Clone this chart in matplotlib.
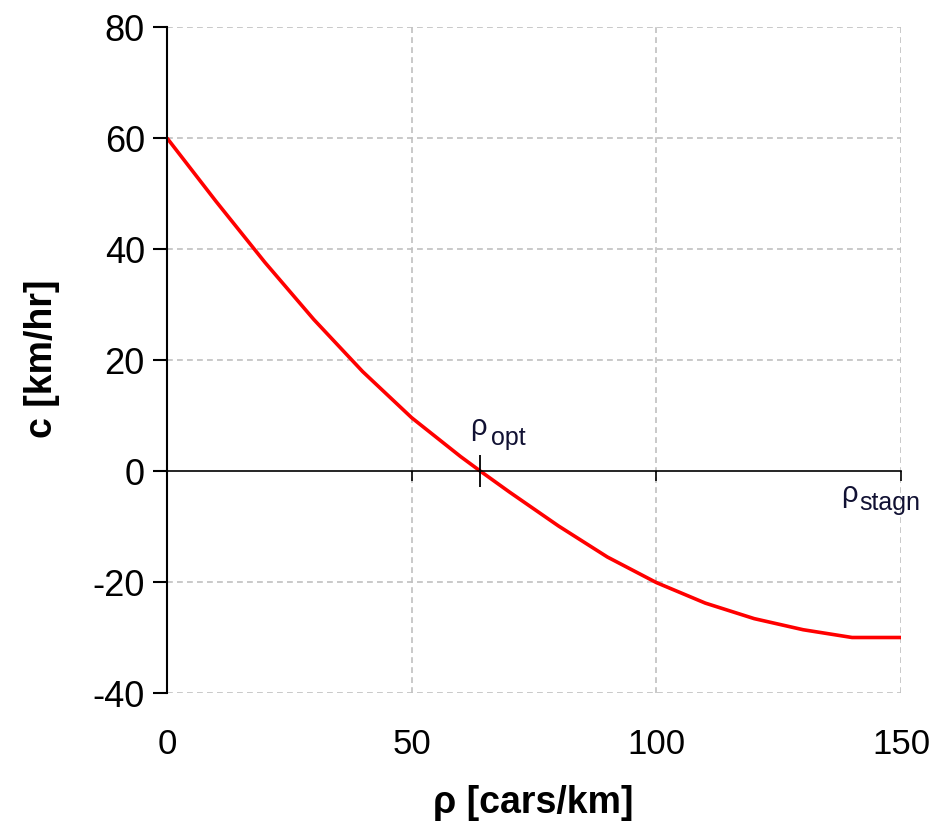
import matplotlib
matplotlib.use("Agg")
import matplotlib.pyplot as plt

# ---- data ----
rho = [0, 10, 20, 30, 40, 50, 60, 64, 70, 80, 90, 100, 110, 120, 130, 140, 150]
c = [60, 48.6, 37.6, 27.3, 17.9, 9.6, 2.6, 0, -3.8, -9.9, -15.5, -20.1, -23.8, -26.6, -28.6, -30, -30]
rho_opt = 64
rho_stagn = 150
x_ticks = [0, 50, 100, 150]
y_ticks = [-40, -20, 0, 20, 40, 60, 80]
x_label = "ρ [cars/km]"
y_label = "c [km/hr]"

plt.rcParams['font.family'] = ['Liberation Sans', 'DejaVu Sans']

W, H = 943, 822
fig = plt.figure(figsize=(W / 100, H / 100), dpi=100)
ax = fig.add_axes([167 / W, 1 - 693 / H, (901 - 167) / W, (693 - 27) / H])

ax.set_xlim(0, 150)
ax.set_ylim(-40, 80)

# grid
for xv in x_ticks[1:]:
    ax.axvline(xv, color='#c0c0c0', lw=1.2, dashes=(3.5, 2.5), zorder=1)
for yv in y_ticks:
    if yv != 0:
        ax.axhline(yv, color='#c0c0c0', lw=1.2, dashes=(3.5, 2.5), zorder=1)

# curve
ax.plot(rho, c, color='#ff0000', lw=2.6, zorder=3, solid_capstyle='butt',
        solid_joinstyle='round')

# spines
for s in ['top', 'right']:
    ax.spines[s].set_visible(False)
ax.spines['left'].set_linewidth(1.5)
ax.spines['left'].set_zorder(4)
ax.spines['bottom'].set_position(('data', 0))
ax.spines['bottom'].set_linewidth(1.2)
ax.spines['bottom'].set_zorder(4)

ax.set_yticks(y_ticks)
ax.set_yticklabels([str(v) for v in y_ticks])
ax.tick_params(axis='y', direction='out', length=10, width=1.5, pad=6, labelsize=26)

ax.set_xticks(x_ticks[1:])
ax.tick_params(axis='x', direction='out', length=7, width=1.2, labelbottom=False)

sec = ax.secondary_xaxis('bottom')
sec.spines['bottom'].set_visible(False)
sec.set_xticks(x_ticks)
sec.set_xticklabels([str(v) for v in x_ticks])
sec.tick_params(axis='x', length=0, pad=25, labelsize=25)

# rho_opt marker
ax.plot([rho_opt], [0], marker='|', markersize=23, markeredgewidth=1.3, color='black', zorder=5)
ax.annotate('ρ', xy=(rho_opt, 0), xytext=(-7, 26), textcoords='offset points',
            ha='left', va='baseline', fontsize=21, color='#111133')
ax.annotate('opt', xy=(rho_opt, 0), xytext=(8, 19), textcoords='offset points',
            ha='left', va='baseline', fontsize=18, color='#111133')

# rho_stagn label
ax.annotate('ρ', xy=(rho_stagn, 0), xytext=(-43, -22), textcoords='offset points',
            ha='left', va='baseline', fontsize=21, color='#111133', annotation_clip=False)
ax.annotate('stagn', xy=(rho_stagn, 0), xytext=(-30, -28), textcoords='offset points',
            ha='left', va='baseline', fontsize=18, color='#111133', annotation_clip=False)

fig.text(42 / W, 1 - 359 / H, y_label, rotation=90, ha='center', va='center',
         fontsize=27, fontweight='bold')
fig.text(533 / W, 1 - 803 / H, x_label, ha='center', va='center',
         fontsize=27, fontweight='bold')

fig.savefig('out.png', dpi=100)
